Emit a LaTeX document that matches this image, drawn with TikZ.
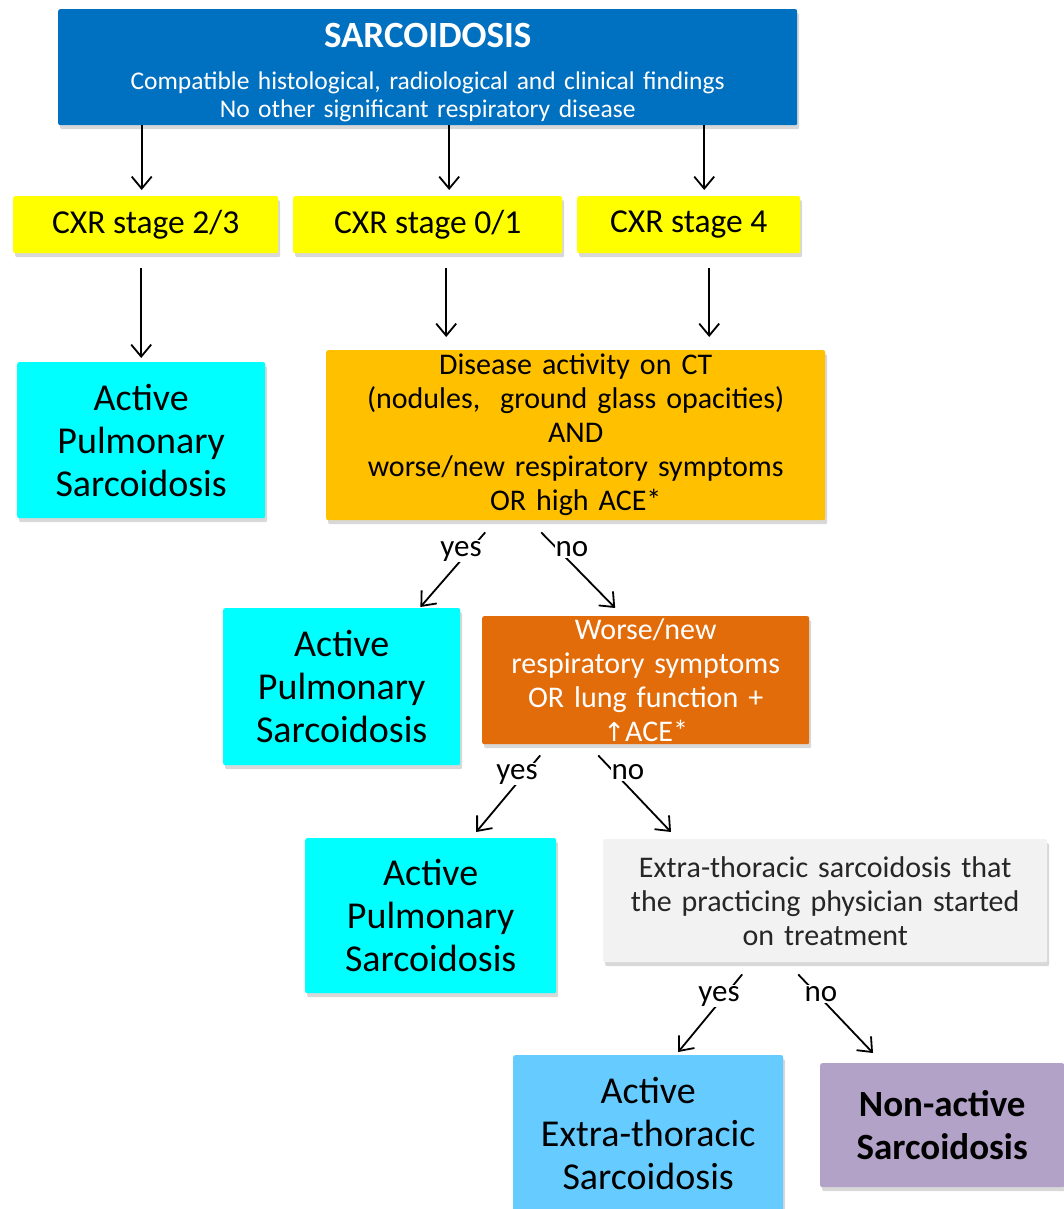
\documentclass[tikz,border=0pt]{standalone}
\usepackage{fontspec}
\setmainfont{Carlito}
\newfontfamily\arrowfont{DejaVu Sans}
\usetikzlibrary{arrows.meta,shadows,calc}
\definecolor{cBlue}{HTML}{0070C0}
\definecolor{cYellow}{HTML}{FFFF00}
\definecolor{cCyan}{HTML}{00FFFF}
\definecolor{cOrange}{HTML}{FFC000}
\definecolor{cDark}{HTML}{E36C0A}
\definecolor{cGrey}{HTML}{F2F2F2}
\definecolor{cLight}{HTML}{66CCFF}
\definecolor{cPurple}{HTML}{B3A2C7}
\tikzset{
  box/.style={anchor=north west, inner sep=0pt, align=center, rounded corners=2pt,
    drop shadow={shadow xshift=2pt, shadow yshift=-4pt, opacity=0.3}},
  arr/.style={-{Straight Barb[length=12pt,width=20pt]}, line width=1.8pt},
  lab/.style={fill=white, inner sep=1pt, font=\fontsize{31}{34}\selectfont},
  big/.style={font=\fontsize{38}{43}\selectfont},
  mid/.style={font=\fontsize{30}{34}\selectfont},
  stage/.style={box, fill=cYellow, minimum height=57pt, font=\fontsize{33.5}{36}\selectfont},
}
\begin{document}
\begin{tikzpicture}[x=1pt,y=-1pt]
\useasboundingbox[fill=white] (0,0) rectangle (1064,1209);
% top
\node[box, fill=cBlue, text=white, minimum width=739pt, minimum height=116pt, text width=720pt,
      font=\fontsize{25.5}{28}\selectfont] (sarc) at (58,9)
  {\raisebox{0pt}[\dimexpr\height+10pt]{\fontsize{37}{40}\selectfont\bfseries SARCOIDOSIS}\\[14pt]
   Compatible histological, radiological and clinical findings\\No other significant respiratory disease};
% stages
\node[stage, minimum width=265pt] (cxr23) at (13,196) {CXR stage 2/3};
\node[stage, minimum width=269pt] (cxr01) at (293,196) {CXR stage 0/1};
\node[stage, minimum width=223pt] (cxr4) at (577,196) {CXR stage 4};
% level 2
\node[box, big, fill=cCyan, minimum width=248pt, minimum height=156pt, text width=240pt] (ap1) at (17,362) {Active\\Pulmonary\\Sarcoidosis};
\node[box, mid, fill=cOrange, minimum width=499pt, minimum height=170pt, text width=490pt] (ct) at (326,350)
  {Disease activity on CT\\(nodules,\ \ ground glass opacities)\\AND\\worse/new respiratory symptoms\\OR high ACE*};
% level 3
\node[box, big, fill=cCyan, minimum width=237pt, minimum height=157pt, text width=230pt] (ap2) at (223,608) {Active\\Pulmonary\\Sarcoidosis};
\node[box, mid, fill=cDark, text=white, minimum width=327pt, minimum height=128pt, text width=320pt] (sym) at (482,616)
  {Worse/new\\respiratory symptoms\\OR lung function +\\{\arrowfont\fontsize{26}{34}\selectfont ↑}ACE*};
% level 4
\node[box, big, fill=cCyan, minimum width=251pt, minimum height=155pt, text width=245pt] (ap3) at (305,838) {Active\\Pulmonary\\Sarcoidosis};
\node[box, mid, fill=cGrey, text=black!85, minimum width=444pt, minimum height=123pt, text width=435pt] (extra) at (603,839)
  {Extra-thoracic sarcoidosis that\\the practicing physician started\\on treatment};
% level 5
\node[box, big, fill=cLight, minimum width=270pt, minimum height=156pt, text width=262pt] (aet) at (513,1055) {Active\\Extra-thoracic\\Sarcoidosis};
\node[box, fill=cPurple, minimum width=244pt, minimum height=124pt, text width=238pt, font=\fontsize{37}{43}\selectfont\bfseries] (nonact) at (820,1063) {Non-active\\Sarcoidosis};
% vertical arrows
\draw[arr, shorten >=6pt] ([xshift=-4pt]cxr23.north |- sarc.south) -- ([xshift=-4pt]cxr23.north);
\draw[arr, shorten >=6pt] ([xshift=21.5pt]cxr01.north |- sarc.south) -- ([xshift=21.5pt]cxr01.north);
\draw[arr, shorten >=6pt] ([xshift=15.5pt]cxr4.north |- sarc.south) -- ([xshift=15.5pt]cxr4.north);
\draw[arr, shorten <=15pt, shorten >=4pt] (ap1.north |- cxr23.south) -- (ap1.north);
\draw[arr, shorten <=15pt, shorten >=13pt] ([xshift=18.5pt]cxr01.south) -- ([xshift=18.5pt]cxr01.south |- ct.north);
\draw[arr, shorten <=15pt, shorten >=13pt] ([xshift=20.5pt]cxr4.south) -- ([xshift=20.5pt]cxr4.south |- ct.north);
% diagonal arrows
\draw[arr] ($(ct.south)+(-90.5,12)$) -- ($(ap2.north east)+(-40,-1)$);
\draw[arr] ($(ct.south)+(-34.5,12)$) -- ($(sym.north)+(-30.5,-8)$);
\draw[arr] ($(sym.south)+(-105.5,11)$) -- ($(ap3.north)+(45.5,-6)$);
\draw[arr] ($(sym.south)+(-47.5,11)$) -- ($(extra.north west)+(68,-7)$);
\draw[arr] ($(extra.south)+(-83,12)$) -- ($(aet.north)+(30,-3)$);
\draw[arr] ($(extra.south)+(-27,12)$) -- ($(nonact.north west)+(53,-10)$);
% labels
\node[lab] (y1) at (461,551) {yes};
\node[lab] (n1) at (572,549) {no};
\node[lab] (y2) at (517,774) {yes};
\node[lab] (n2) at (628,772) {no};
\node[lab] (y3) at (719,996) {yes};
\node[lab] (n3) at (821,994) {no};
\end{tikzpicture}
\end{document}
